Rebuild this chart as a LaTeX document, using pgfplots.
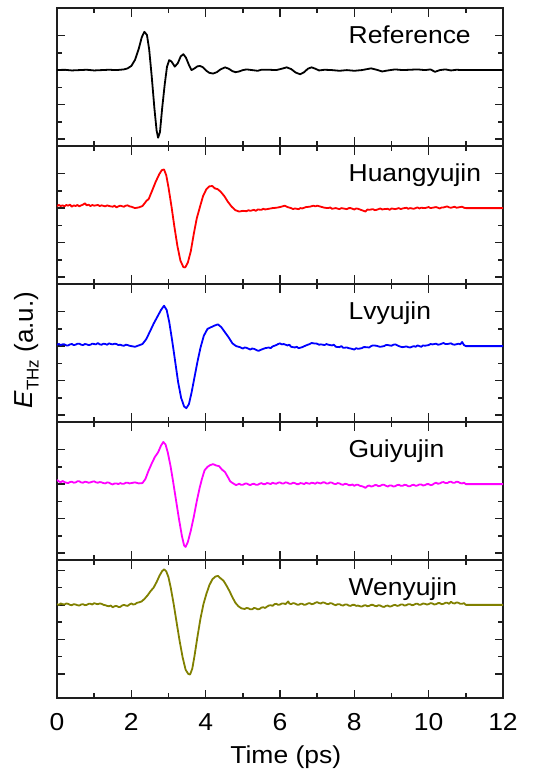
\documentclass[border=0pt]{standalone}
\usepackage{fontspec}
\setmainfont{Liberation Sans}[FakeStretch=1.08]
\newfontfamily\ylabfont{Liberation Sans}
\usepackage{pgfplots}
\pgfplotsset{compat=1.18}
\definecolor{framec}{RGB}{30,30,30}
\definecolor{olivec}{RGB}{128,128,0}
\definecolor{magc}{RGB}{255,0,255}
\definecolor{redc}{RGB}{255,0,0}
\definecolor{bluec}{RGB}{0,0,255}
\newcommand{\lblfont}{\fontsize{24.5}{26}\selectfont}
\pgfplotsset{panel/.style={
  width=446pt, height=138pt, scale only axis,
  xmin=0, xmax=12, xtick={0,2,...,12}, minor x tick num=1,
  ytick={-2,-1,0,1}, minor y tick num=1, yticklabels={},
  tick align=inside, xtick pos=both, ytick pos=both,
  major tick length=8.5pt, minor tick length=5pt,
  axis line style={framec, line width=1.4pt},
  major tick style={framec, line width=1.4pt},
  minor tick style={framec, line width=1.4pt},
  anchor=south west,
  ymin=-2.2, ymax=1.8,
},
curve/.style={line width=1.8pt, no markers, line join=round}}
\begin{document}
\begin{tikzpicture}
% panel 1
\begin{axis}[panel, at={(0pt,552pt)}, xticklabels={}]
\addplot[curve, black] coordinates {
(0,0.00)(0.2,0.01)(0.4,-0.01)(0.6,0.00)(0.8,0.01)(1.0,-0.01)(1.2,0.00)(1.4,0.01)(1.6,0.00)(1.8,0.02)(1.9,0.05)(2.0,0.12)(2.1,0.30)(2.2,0.62)(2.28,0.95)(2.35,1.11)(2.42,1.02)(2.48,0.60)(2.55,-0.20)(2.62,-1.10)(2.68,-1.75)(2.72,-1.96)(2.77,-1.80)(2.83,-1.10)(2.90,-0.40)(2.96,0.10)(3.02,0.29)(3.08,0.25)(3.17,0.10)(3.25,0.20)(3.33,0.40)(3.40,0.46)(3.47,0.36)(3.55,0.15)(3.62,0.00)(3.70,0.05)(3.78,0.11)(3.85,0.12)(3.93,0.08)(4.02,-0.02)(4.10,-0.08)(4.20,-0.10)(4.30,-0.06)(4.40,0.02)(4.52,0.08)(4.62,0.04)(4.72,-0.03)(4.80,-0.06)(4.90,-0.04)(5.0,0.0)(5.1,0.02)(5.25,0.00)(5.4,-0.02)(5.5,0.01)(5.7,0.01)(5.9,0.00)(6.05,0.04)(6.18,0.08)(6.3,0.03)(6.42,-0.07)(6.54,-0.12)(6.65,-0.06)(6.75,0.04)(6.85,0.08)(6.95,0.04)(7.05,-0.01)(7.2,0.01)(7.4,0.00)(7.6,-0.02)(7.8,0.0)(8.0,-0.02)(8.2,0.0)(8.45,0.05)(8.6,0.01)(8.75,-0.04)(8.9,-0.01)(9.1,0.02)(9.3,0.00)(9.5,0.01)(9.7,0.02)(9.9,0.00)(10.05,0.02)(10.17,-0.05)(10.3,0.00)(10.45,0.02)(10.6,-0.01)(10.75,0.01)(10.9,0.00)(11.0,0.0)(12,0.0)};
\node[anchor=base west, font=\lblfont] at (rel axis cs:0.646,0.746) {Reference};
\end{axis}
% panel 2
\begin{axis}[panel, at={(0pt,414pt)}, xticklabels={}]
\addplot[curve, redc] coordinates {
(0.00,0.06)(0.05,0.09)(0.1,0.06)(0.15,0.08)(0.2,0.05)(0.25,0.09)(0.3,0.07)(0.35,0.10)(0.4,0.04)(0.45,0.08)(0.5,0.06)(0.55,0.09)(0.6,0.05)(0.65,0.08)(0.7,0.10)(0.75,0.14)(0.8,0.08)(0.85,0.10)(0.9,0.06)(0.95,0.09)(1.0,0.07)(1.1,0.09)(1.15,0.06)(1.2,0.08)(1.3,0.05)(1.35,0.08)(1.4,0.06)(1.5,0.04)(1.55,0.07)(1.6,0.02)(1.65,0.05)(1.7,0.07)(1.8,0.04)(1.85,0.07)(1.9,0.08)(1.95,0.05)(2.0,0.04)(2.1,0.00)(2.2,0.02)(2.3,0.06)(2.4,0.20)(2.47,0.27)(2.55,0.48)(2.65,0.75)(2.75,0.98)(2.82,1.10)(2.88,1.12)(2.94,0.95)(3.0,0.60)(3.08,0.05)(3.16,-0.55)(3.24,-1.10)(3.32,-1.52)(3.40,-1.71)(3.45,-1.72)(3.52,-1.58)(3.60,-1.25)(3.68,-0.75)(3.76,-0.30)(3.85,0.05)(3.93,0.35)(4.02,0.55)(4.10,0.63)(4.18,0.64)(4.25,0.57)(4.32,0.55)(4.40,0.48)(4.50,0.35)(4.60,0.18)(4.70,0.04)(4.80,-0.06)(4.90,-0.10)(5.0,-0.08)(5.1,-0.09)(5.15,-0.06)(5.2,-0.08)(5.3,-0.05)(5.35,-0.08)(5.4,-0.04)(5.5,-0.05)(5.55,-0.02)(5.6,-0.04)(5.7,-0.02)(5.8,0.00)(5.9,0.01)(6.0,0.03)(6.13,0.07)(6.2,0.03)(6.3,0.00)(6.35,-0.03)(6.4,-0.01)(6.5,-0.03)(6.55,0.00)(6.6,-0.01)(6.7,0.03)(6.8,0.04)(6.9,0.07)(6.95,0.05)(7.0,0.07)(7.1,0.04)(7.2,0.01)(7.3,0.00)(7.35,0.02)(7.4,-0.02)(7.5,0.00)(7.6,-0.03)(7.65,0.00)(7.7,-0.01)(7.8,-0.03)(7.85,0.00)(7.9,0.00)(8.0,-0.04)(8.05,-0.01)(8.1,-0.02)(8.2,-0.06)(8.3,-0.10)(8.35,-0.04)(8.4,-0.05)(8.5,-0.03)(8.55,-0.06)(8.6,-0.05)(8.7,-0.01)(8.75,-0.04)(8.8,-0.03)(8.9,-0.02)(8.95,-0.05)(9.0,-0.01)(9.1,-0.03)(9.2,0.00)(9.25,-0.03)(9.3,-0.01)(9.4,0.01)(9.45,-0.02)(9.5,0.00)(9.6,-0.02)(9.7,0.02)(9.75,-0.01)(9.8,0.01)(9.9,0.00)(10.0,0.03)(10.05,0.00)(10.1,0.01)(10.2,0.03)(10.3,-0.01)(10.35,0.02)(10.4,0.02)(10.5,0.05)(10.55,0.02)(10.6,0.01)(10.7,0.04)(10.75,0.01)(10.8,0.02)(10.9,0.04)(10.95,0.01)(11.0,0.0)(12.0,0.0)};
\node[anchor=base west, font=\lblfont] at (rel axis cs:0.646,0.746) {Huangyujin};
\end{axis}
% panel 3
\begin{axis}[panel, at={(0pt,276pt)}, xticklabels={}]
\addplot[curve, bluec] coordinates {
(0.0,0.04)(0.05,0.06)(0.1,0.03)(0.15,0.05)(0.2,0.05)(0.25,0.02)(0.3,0.02)(0.35,0.05)(0.4,0.06)(0.45,0.03)(0.5,0.04)(0.55,0.07)(0.6,0.07)(0.65,0.04)(0.7,0.03)(0.75,0.06)(0.8,0.05)(0.85,0.03)(0.9,0.04)(0.95,0.07)(1.0,0.06)(1.05,0.05)(1.1,0.09)(1.15,0.05)(1.2,0.04)(1.25,0.07)(1.3,0.06)(1.35,0.04)(1.4,0.08)(1.45,0.06)(1.5,0.05)(1.55,0.07)(1.6,0.06)(1.65,0.03)(1.7,0.04)(1.75,0.02)(1.8,0.01)(1.85,0.04)(1.9,0.03)(1.95,0.01)(2.0,0.00)(2.1,-0.02)(2.2,0.02)(2.3,0.06)(2.4,0.20)(2.5,0.42)(2.6,0.65)(2.7,0.85)(2.8,1.05)(2.88,1.17)(2.95,1.05)(3.02,0.70)(3.1,0.15)(3.18,-0.45)(3.26,-1.05)(3.34,-1.50)(3.42,-1.75)(3.48,-1.80)(3.55,-1.68)(3.62,-1.35)(3.70,-0.90)(3.78,-0.45)(3.86,-0.05)(3.95,0.30)(4.05,0.50)(4.15,0.55)(4.25,0.60)(4.33,0.63)(4.42,0.55)(4.52,0.40)(4.62,0.25)(4.72,0.08)(4.82,0.00)(4.92,-0.03)(5.0,-0.07)(5.05,-0.04)(5.1,-0.05)(5.2,-0.10)(5.25,-0.07)(5.3,-0.08)(5.42,-0.14)(5.5,-0.10)(5.55,-0.08)(5.6,-0.06)(5.7,-0.04)(5.75,-0.06)(5.8,-0.01)(5.9,0.03)(5.95,0.06)(6.0,0.08)(6.05,0.05)(6.1,0.06)(6.2,0.02)(6.25,0.04)(6.3,-0.02)(6.4,-0.04)(6.45,-0.02)(6.5,-0.06)(6.6,-0.03)(6.7,0.02)(6.8,0.06)(6.85,0.09)(6.9,0.08)(7.0,0.07)(7.05,0.04)(7.1,0.05)(7.2,0.03)(7.25,0.06)(7.3,0.04)(7.4,0.02)(7.45,0.04)(7.5,-0.02)(7.6,-0.03)(7.65,0.00)(7.7,-0.05)(7.8,-0.04)(7.85,-0.06)(7.9,-0.07)(8.0,-0.10)(8.05,-0.06)(8.1,-0.08)(8.2,-0.06)(8.25,-0.03)(8.3,-0.03)(8.4,-0.04)(8.45,0.00)(8.5,0.02)(8.6,0.01)(8.65,-0.01)(8.7,-0.02)(8.8,0.00)(8.85,0.03)(8.9,0.03)(9.0,0.01)(9.05,0.04)(9.1,0.05)(9.2,0.00)(9.25,-0.02)(9.3,-0.03)(9.4,-0.01)(9.45,-0.03)(9.5,-0.04)(9.6,0.00)(9.65,-0.02)(9.7,0.02)(9.8,-0.02)(9.85,0.02)(9.9,0.01)(10.0,0.03)(10.05,0.06)(10.1,0.05)(10.2,0.07)(10.25,0.04)(10.3,0.05)(10.4,0.09)(10.45,0.06)(10.5,0.06)(10.6,0.08)(10.65,0.05)(10.7,0.04)(10.8,0.07)(10.85,0.05)(10.9,0.12)(10.95,0.03)(11.0,0.0)(12,0.0)};
\node[anchor=base west, font=\lblfont] at (rel axis cs:0.646,0.746) {Lvyujin};
\end{axis}
% panel 4
\begin{axis}[panel, at={(0pt,138pt)}, xticklabels={}]
\addplot[curve, magc] coordinates {
(0,0.12)(0.05,0.08)(0.1,0.05)(0.15,0.09)(0.2,0.06)(0.25,0.04)(0.3,0.03)(0.35,0.06)(0.4,0.07)(0.45,0.04)(0.5,0.05)(0.55,0.08)(0.6,0.08)(0.65,0.05)(0.7,0.04)(0.75,0.07)(0.8,0.06)(0.85,0.04)(0.9,0.05)(0.95,0.07)(1.0,0.08)(1.05,0.05)(1.1,0.04)(1.15,0.06)(1.2,0.05)(1.25,0.03)(1.3,0.02)(1.35,0.05)(1.4,0.04)(1.45,0.01)(1.5,-0.01)(1.55,0.02)(1.6,0.02)(1.65,0.00)(1.7,0.03)(1.75,0.01)(1.8,0.01)(1.85,0.04)(1.9,0.04)(1.95,0.02)(2.0,0.03)(2.1,0.05)(2.2,0.02)(2.3,0.03)(2.38,0.15)(2.46,0.38)(2.55,0.6)(2.63,0.78)(2.72,0.92)(2.8,1.12)(2.86,1.22)(2.92,1.15)(2.98,0.92)(3.05,0.55)(3.12,0.10)(3.2,-0.45)(3.28,-1.0)(3.36,-1.5)(3.42,-1.78)(3.46,-1.82)(3.52,-1.68)(3.6,-1.35)(3.68,-0.95)(3.76,-0.50)(3.84,-0.10)(3.9,0.15)(3.97,0.40)(4.05,0.50)(4.12,0.55)(4.2,0.58)(4.28,0.54)(4.36,0.52)(4.44,0.42)(4.52,0.35)(4.6,0.2)(4.66,0.08)(4.74,0.02)(4.82,-0.03)(4.9,0.01)(4.95,-0.02)(5.0,-0.02)(5.05,0.01)(5.1,0.02)(5.15,-0.01)(5.2,-0.03)(5.25,0.00)(5.3,0.01)(5.35,-0.02)(5.4,-0.02)(5.45,0.01)(5.5,0.03)(5.55,0.00)(5.6,0.00)(5.65,0.03)(5.7,0.02)(5.75,0.00)(5.8,0.04)(5.85,0.02)(5.9,0.01)(5.95,0.04)(6.0,0.05)(6.05,0.02)(6.1,0.02)(6.15,0.05)(6.2,0.04)(6.25,0.01)(6.3,0.01)(6.35,0.04)(6.4,0.03)(6.45,0.00)(6.5,0.00)(6.55,0.03)(6.6,0.02)(6.65,0.00)(6.7,0.04)(6.75,0.02)(6.8,0.01)(6.85,0.04)(6.9,0.03)(6.95,0.01)(7.0,0.05)(7.05,0.03)(7.1,0.02)(7.15,0.05)(7.2,0.05)(7.25,0.02)(7.3,0.02)(7.35,0.05)(7.4,0.04)(7.45,0.01)(7.5,0.00)(7.55,0.03)(7.6,0.02)(7.65,-0.01)(7.7,-0.02)(7.75,0.01)(7.8,0.00)(7.85,-0.03)(7.9,-0.03)(7.95,-0.01)(8.0,-0.05)(8.05,-0.02)(8.1,-0.02)(8.15,-0.05)(8.2,-0.06)(8.25,-0.08)(8.3,-0.11)(8.35,-0.06)(8.4,-0.04)(8.45,-0.07)(8.5,-0.06)(8.55,-0.03)(8.6,-0.03)(8.65,-0.06)(8.7,-0.05)(8.75,-0.02)(8.8,-0.02)(8.85,-0.05)(8.9,-0.07)(8.95,-0.04)(9.0,-0.04)(9.05,-0.07)(9.1,-0.06)(9.15,-0.03)(9.2,-0.02)(9.25,-0.05)(9.3,-0.05)(9.35,-0.02)(9.4,-0.03)(9.45,-0.06)(9.5,-0.06)(9.55,-0.03)(9.6,-0.02)(9.65,-0.05)(9.7,-0.04)(9.75,-0.01)(9.8,-0.01)(9.85,-0.04)(9.9,-0.03)(9.95,0.00)(10.0,0.00)(10.05,-0.03)(10.1,-0.02)(10.15,0.02)(10.2,0.04)(10.25,0.01)(10.3,0.02)(10.35,0.05)(10.4,0.06)(10.45,0.03)(10.5,0.03)(10.55,0.06)(10.6,0.07)(10.65,0.04)(10.7,0.04)(10.75,0.07)(10.8,0.06)(10.85,0.03)(10.9,0.02)(10.95,0.04)(11.0,0)(12,0)};
\node[anchor=base west, font=\lblfont] at (rel axis cs:0.646,0.746) {Guiyujin};
\end{axis}
% panel 5
\begin{axis}[panel, at={(0pt,0pt)}, ymin=-2.7, ymax=1.3,
  xticklabel style={font=\fontsize{24.5}{26}\selectfont, /pgf/number format/assume math mode=true, anchor=north, inner sep=0pt, yshift=-15pt},
  xlabel={Time (ps)},
  xlabel style={at={(axis description cs:0.513,0)}, anchor=north, inner sep=0pt, yshift=-48pt, font=\lblfont}]
\addplot[curve, olivec] coordinates {
(0,0.02)(0.05,0.00)(0.1,0.04)(0.15,0.02)(0.2,0.01)(0.25,0.04)(0.3,0.03)(0.35,0.00)(0.4,-0.01)(0.45,0.02)(0.5,0.01)(0.55,-0.01)(0.6,-0.02)(0.65,0.01)(0.7,0.02)(0.75,-0.01)(0.8,0.00)(0.85,0.03)(0.9,0.03)(0.95,0.01)(1.0,0.05)(1.05,0.03)(1.1,0.02)(1.15,0.04)(1.2,0.03)(1.25,0.00)(1.3,-0.01)(1.35,-0.03)(1.4,-0.04)(1.45,-0.02)(1.5,-0.07)(1.55,-0.04)(1.6,-0.03)(1.65,-0.06)(1.7,-0.06)(1.75,-0.02)(1.8,0.00)(1.85,-0.02)(1.9,-0.03)(1.95,0.01)(2.0,0.04)(2.05,0.01)(2.1,0.02)(2.15,0.06)(2.2,0.07)(2.28,0.10)(2.36,0.18)(2.44,0.28)(2.52,0.40)(2.6,0.50)(2.68,0.66)(2.76,0.85)(2.83,0.98)(2.88,1.03)(2.94,0.97)(3.0,0.80)(3.06,0.50)(3.14,0.02)(3.22,-0.52)(3.3,-1.05)(3.38,-1.52)(3.46,-1.88)(3.53,-2.0)(3.58,-2.02)(3.64,-1.85)(3.7,-1.48)(3.78,-0.92)(3.86,-0.40)(3.94,0.02)(4.02,0.32)(4.1,0.57)(4.18,0.74)(4.26,0.82)(4.33,0.84)(4.4,0.77)(4.48,0.70)(4.56,0.56)(4.64,0.40)(4.72,0.22)(4.8,0.06)(4.88,-0.04)(4.96,-0.10)(5.05,-0.12)(5.1,-0.09)(5.15,-0.10)(5.2,-0.13)(5.25,-0.13)(5.3,-0.09)(5.35,-0.10)(5.4,-0.13)(5.45,-0.12)(5.5,-0.08)(5.55,-0.07)(5.6,-0.09)(5.65,-0.05)(5.7,-0.02)(5.75,-0.01)(5.8,-0.03)(5.85,0.02)(5.9,0.03)(5.95,0.00)(6.0,0.01)(6.05,0.04)(6.1,0.04)(6.15,0.02)(6.22,0.10)(6.25,0.04)(6.3,0.02)(6.35,0.05)(6.4,0.04)(6.45,0.01)(6.5,0.00)(6.55,0.03)(6.6,0.03)(6.65,0.00)(6.7,0.01)(6.75,0.04)(6.8,0.05)(6.85,0.02)(6.9,0.03)(6.95,0.06)(7.0,0.08)(7.05,0.05)(7.1,0.04)(7.15,0.07)(7.2,0.06)(7.25,0.03)(7.3,0.02)(7.35,0.05)(7.4,0.04)(7.45,0.01)(7.5,-0.01)(7.55,0.02)(7.6,0.02)(7.65,-0.01)(7.7,-0.02)(7.75,0.01)(7.8,0.01)(7.85,-0.02)(7.9,-0.03)(7.95,0.00)(8.0,0.00)(8.05,-0.03)(8.1,-0.02)(8.15,-0.04)(8.2,-0.05)(8.25,-0.02)(8.3,-0.01)(8.35,-0.04)(8.4,-0.03)(8.45,0.00)(8.5,0.00)(8.55,-0.03)(8.6,-0.04)(8.65,-0.01)(8.7,-0.02)(8.75,-0.05)(8.8,-0.06)(8.85,-0.03)(8.9,-0.02)(8.95,-0.05)(9.0,-0.04)(9.05,-0.01)(9.1,0.00)(9.15,-0.03)(9.2,-0.02)(9.25,0.01)(9.3,0.01)(9.35,-0.02)(9.4,-0.01)(9.45,0.02)(9.5,0.02)(9.55,-0.01)(9.6,0.00)(9.65,0.03)(9.7,0.03)(9.75,0.00)(9.8,0.01)(9.85,0.04)(9.9,0.03)(9.95,0.01)(10.0,0.02)(10.05,0.05)(10.1,0.04)(10.15,0.01)(10.2,0.02)(10.25,0.05)(10.3,0.05)(10.35,0.02)(10.4,0.03)(10.45,0.06)(10.5,0.06)(10.55,0.03)(10.6,0.09)(10.65,0.05)(10.7,0.04)(10.75,0.07)(10.8,0.06)(10.85,0.03)(10.9,0.03)(10.95,0.05)(11.0,0)(12,0)};
\node[anchor=base west, font=\lblfont] at (rel axis cs:0.646,0.746) {Wenyujin};
\end{axis}
\node[rotate=90, anchor=base, font=\ylabfont\fontsize{26}{26}\selectfont] at (-24pt,348pt) {{\itshape E}\raisebox{-0.22em}{\fontsize{17}{17}\selectfont THz} (a.u.)};
\path (-57pt,-74pt) rectangle (478pt,698pt);
\end{tikzpicture}
\end{document}
